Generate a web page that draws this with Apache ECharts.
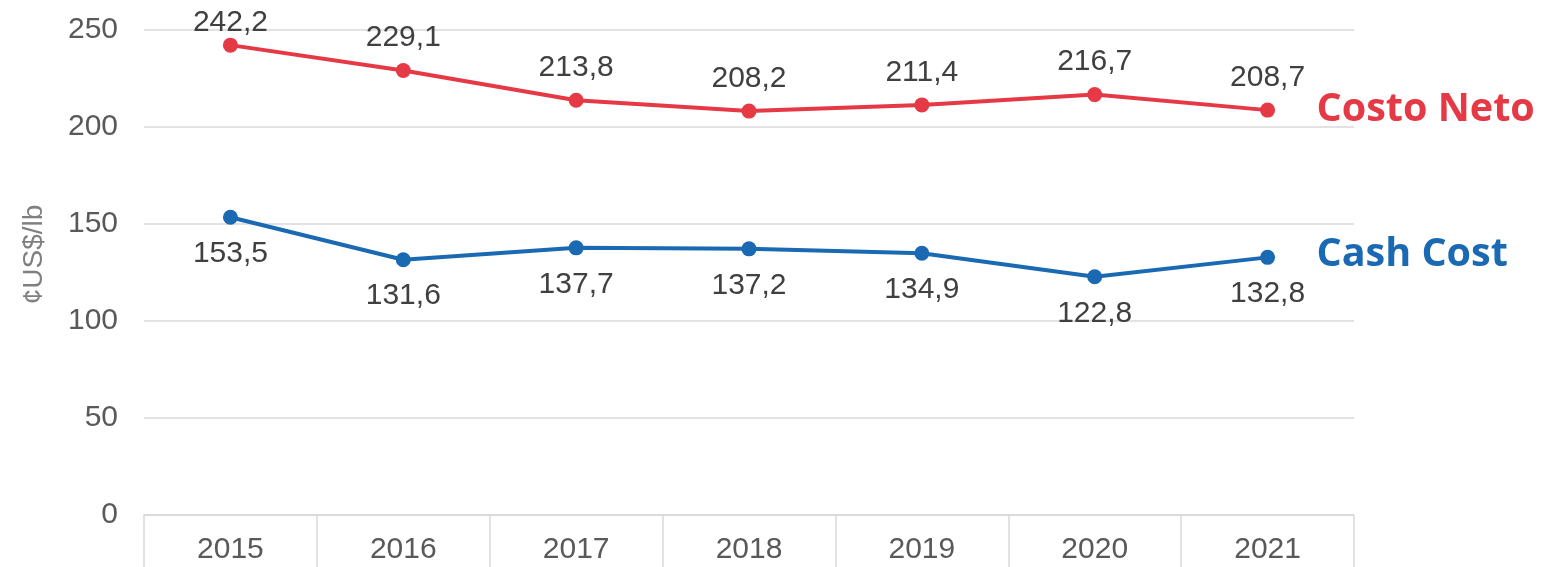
<!DOCTYPE html>
<html>
<head>
<meta charset="utf-8">
<script src="https://cdn.jsdelivr.net/npm/echarts@6/dist/echarts.min.js"></script>
<style>html,body{margin:0;padding:0;background:#fff;}#c{width:1541px;height:567px;}</style>
</head>
<body>
<div id="c"></div>
<script>
var years = ['2015','2016','2017','2018','2019','2020','2021'];
var costoNeto = [242.2, 229.1, 213.8, 208.2, 211.4, 216.7, 208.7];
var cashCost = [153.5, 131.6, 137.7, 137.2, 134.9, 122.8, 132.8];
var seriesNames = ['Costo Neto', 'Cash Cost'];
var yAxisName = '¢US$/lb';

var RED = '#E63946';
var BLUE = '#1A69B3';
var FONT = '"Liberation Sans", Arial, sans-serif';
function fmt(p){ return p.value.toFixed(1).replace('.', ','); }

// first label of the top series sits closer to its point (kept inside the chart top)
var costoNetoData = costoNeto.map(function (v, i) {
  return i === 0 ? { value: v, label: { distance: 0 } } : v;
});

var chart = echarts.init(document.getElementById('c'));
chart.setOption({
  animation: false,
  grid: { left: 144, right: 187, top: 30, bottom: 52, containLabel: false },
  xAxis: {
    type: 'category',
    data: years,
    boundaryGap: true,
    axisLine: { show: true, lineStyle: { color: '#d9d9d9', width: 1.5 } },
    axisTick: { show: true, interval: 0, length: 60, lineStyle: { color: '#d9d9d9', width: 1.5 } },
    axisLabel: { color: '#595959', fontFamily: FONT, fontSize: 30, margin: 20 },
    splitLine: { show: false }
  },
  yAxis: {
    type: 'value',
    min: 0, max: 250, interval: 50,
    name: yAxisName,
    nameLocation: 'middle',
    nameRotate: 90,
    nameGap: 96,
    nameTextStyle: { color: '#7f7f7f', fontFamily: FONT, fontSize: 28, padding: [0, 0, 0, 36] },
    axisLine: { show: false },
    axisTick: { show: false },
    axisLabel: { color: '#595959', fontFamily: FONT, fontSize: 30, margin: 26 },
    splitLine: { lineStyle: { color: '#d9d9d9', width: 1.5 } }
  },
  series: [
    {
      name: seriesNames[0],
      type: 'line',
      data: costoNetoData,
      symbol: 'circle',
      symbolSize: 15,
      lineStyle: { color: RED, width: 4 },
      itemStyle: { color: RED },
      label: { show: true, position: 'top', distance: 10, formatter: fmt, color: '#404040', fontFamily: FONT, fontSize: 30 },
      endLabel: { show: true, formatter: '{a}', color: RED, fontFamily: '"Open Sans", sans-serif', fontWeight: 'bold', fontSize: 39.5, distance: 49 }
    },
    {
      name: seriesNames[1],
      type: 'line',
      data: cashCost,
      symbol: 'circle',
      symbolSize: 15,
      lineStyle: { color: BLUE, width: 4 },
      itemStyle: { color: BLUE },
      label: { show: true, position: 'bottom', distance: 14, formatter: fmt, color: '#404040', fontFamily: FONT, fontSize: 30 },
      endLabel: { show: true, formatter: '{a}', color: BLUE, fontFamily: '"Open Sans", sans-serif', fontWeight: 'bold', fontSize: 39.5, distance: 49, offset: [0, -3] }
    }
  ]
});
</script>
</body>
</html>
